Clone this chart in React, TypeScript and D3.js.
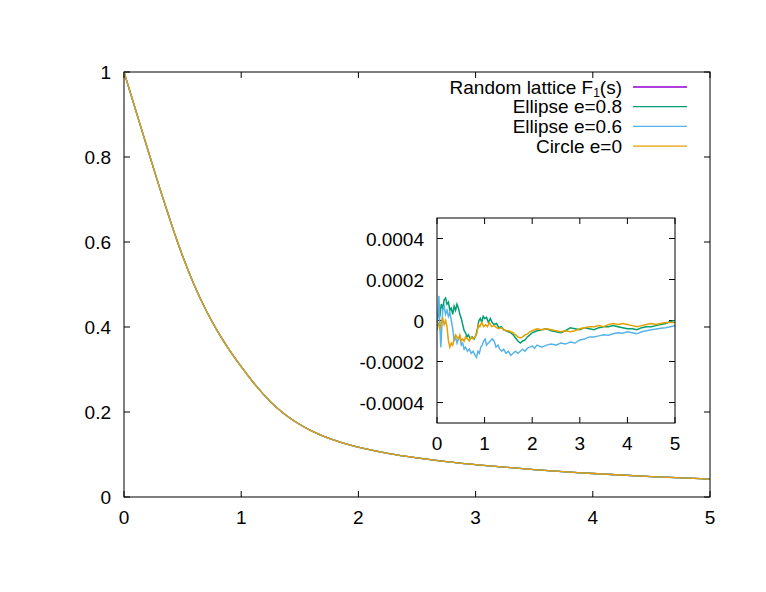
import React from "react";
import * as d3 from "d3";

// Main curve F1(s) (all four series coincide at this scale)
const sMain = [0, 0.1, 0.2, 0.3, 0.4, 0.5, 0.6, 0.7, 0.8, 0.9, 1.0, 1.1, 1.2, 1.3, 1.4, 1.5, 1.6, 1.7, 1.8, 1.9, 2.0, 2.25, 2.5, 2.75, 3.0, 3.5, 4.0, 4.5, 5.0];
const fMain = [1, 0.91, 0.82, 0.73, 0.645, 0.565, 0.497, 0.438, 0.388, 0.345, 0.306, 0.27, 0.238, 0.21, 0.188, 0.17, 0.155, 0.143, 0.133, 0.124, 0.117, 0.102, 0.092, 0.083, 0.076, 0.064, 0.055, 0.048, 0.042];

// Inset differences (units of 1e-4)
const sGreen = [0, 0.03, 0.06, 0.09, 0.12, 0.15, 0.18, 0.21, 0.24, 0.27, 0.3, 0.33, 0.36, 0.39, 0.42, 0.45, 0.48, 0.51, 0.54, 0.57, 0.6, 0.63, 0.66, 0.7, 0.74, 0.78, 0.82, 0.85, 0.88, 0.91, 0.94, 0.97, 1.0, 1.04, 1.08, 1.12, 1.16, 1.2, 1.25, 1.3, 1.35, 1.4, 1.45, 1.5, 1.55, 1.6, 1.65, 1.7, 1.75, 1.8, 1.85, 1.9, 1.95, 2.0, 2.1, 2.2, 2.3, 2.4, 2.5, 2.6, 2.7, 2.8, 2.9, 3.0, 3.1, 3.2, 3.3, 3.4, 3.5, 3.6, 3.7, 3.8, 3.9, 4.0, 4.1, 4.2, 4.3, 4.4, 4.5, 4.6, 4.7, 4.8, 4.9, 5.0];
const dGreen = [0, 0.4, 0.2, 0.8, 0.6, 1.0, 1.1, 0.8, 0.9, 0.5, 0.6, 0.3, 0.7, 0.5, 0.8, 0.6, 0.3, 0.1, -0.2, -0.5, -0.6, -0.8, -0.7, -0.9, -0.8, -0.9, -0.7, -0.4, 0.0, 0.1, -0.1, 0.2, 0.1, 0.15, -0.1, 0.1, -0.1, -0.2, -0.15, -0.35, -0.3, -0.45, -0.5, -0.55, -0.6, -0.7, -0.85, -1.0, -1.1, -1.0, -0.95, -0.8, -0.7, -0.6, -0.5, -0.45, -0.4, -0.5, -0.55, -0.6, -0.5, -0.35, -0.4, -0.45, -0.35, -0.4, -0.45, -0.35, -0.3, -0.3, -0.25, -0.3, -0.35, -0.4, -0.4, -0.45, -0.35, -0.3, -0.3, -0.25, -0.2, -0.15, -0.05, 0.0];

const sBlue = [0, 0.02, 0.04, 0.06, 0.08, 0.1, 0.12, 0.15, 0.18, 0.21, 0.24, 0.27, 0.3, 0.33, 0.36, 0.39, 0.42, 0.45, 0.48, 0.51, 0.54, 0.57, 0.6, 0.64, 0.68, 0.72, 0.76, 0.8, 0.83, 0.86, 0.89, 0.92, 0.95, 0.98, 1.01, 1.04, 1.08, 1.12, 1.16, 1.2, 1.24, 1.28, 1.32, 1.36, 1.4, 1.45, 1.5, 1.55, 1.6, 1.65, 1.7, 1.75, 1.8, 1.85, 1.9, 1.95, 2.0, 2.05, 2.1, 2.2, 2.3, 2.4, 2.5, 2.6, 2.7, 2.8, 2.9, 3.0, 3.1, 3.2, 3.3, 3.4, 3.5, 3.6, 3.7, 3.8, 3.9, 4.0, 4.1, 4.2, 4.3, 4.4, 4.5, 4.6, 4.7, 4.8, 4.9, 5.0];
const dBlue = [-0.5, 0.3, 1.2, -0.2, -1.3, -0.4, 0.5, 0.7, 0.3, 0.5, 0.2, 0.4, 0.0, -0.4, -1.0, -0.8, -1.1, -0.9, -0.8, -1.2, -1.1, -1.4, -1.3, -1.5, -1.4, -1.6, -1.5, -1.7, -1.8, -1.5, -1.6, -1.3, -1.2, -1.0, -0.9, -1.2, -1.1, -1.0, -0.9, -1.0, -1.3, -1.2, -1.4, -1.5, -1.4, -1.6, -1.5, -1.7, -1.6, -1.5, -1.6, -1.5, -1.4, -1.5, -1.35, -1.3, -1.25, -1.35, -1.2, -1.3, -1.2, -1.15, -1.2, -1.1, -1.15, -1.05, -1.1, -0.95, -0.9, -0.8, -0.8, -0.75, -0.7, -0.72, -0.65, -0.6, -0.62, -0.55, -0.6, -0.65, -0.55, -0.5, -0.45, -0.42, -0.38, -0.35, -0.3, -0.25];

const sOrange = [0, 0.03, 0.06, 0.09, 0.12, 0.15, 0.18, 0.21, 0.24, 0.27, 0.3, 0.33, 0.36, 0.39, 0.42, 0.45, 0.48, 0.51, 0.54, 0.57, 0.6, 0.64, 0.68, 0.72, 0.76, 0.8, 0.84, 0.87, 0.9, 0.94, 0.98, 1.02, 1.06, 1.1, 1.15, 1.2, 1.25, 1.3, 1.35, 1.4, 1.45, 1.5, 1.55, 1.6, 1.65, 1.7, 1.75, 1.8, 1.85, 1.9, 1.95, 2.0, 2.1, 2.2, 2.3, 2.4, 2.5, 2.6, 2.7, 2.8, 2.9, 3.0, 3.1, 3.2, 3.3, 3.4, 3.5, 3.6, 3.7, 3.8, 3.9, 4.0, 4.1, 4.2, 4.3, 4.4, 4.5, 4.6, 4.7, 4.8, 4.9, 5.0];
const dOrange = [0, -0.2, -0.4, -0.1, 0.1, -0.2, 0.0, -0.3, -1.0, -1.3, -1.1, -1.2, -0.9, -0.7, -0.8, -0.9, -0.7, -1.0, -0.9, -1.0, -0.8, -0.9, -1.0, -0.8, -0.9, -0.8, -0.6, -0.2, -0.3, -0.1, -0.3, -0.2, -0.3, -0.1, -0.3, -0.25, -0.35, -0.4, -0.35, -0.45, -0.5, -0.5, -0.55, -0.6, -0.7, -0.8, -0.85, -0.8, -0.7, -0.65, -0.55, -0.5, -0.4, -0.45, -0.4, -0.45, -0.5, -0.55, -0.5, -0.55, -0.5, -0.4, -0.35, -0.3, -0.3, -0.25, -0.3, -0.2, -0.15, -0.2, -0.15, -0.2, -0.25, -0.3, -0.25, -0.2, -0.15, -0.2, -0.15, -0.1, -0.1, -0.1];

const mainXTicks = [0, 1, 2, 3, 4, 5];
const mainYTicks = [0, 0.2, 0.4, 0.6, 0.8, 1];
const insetXTicks = [0, 1, 2, 3, 4, 5];
const insetYTicks = [-0.0004, -0.0002, 0, 0.0002, 0.0004];
const insetYLabels = ["-0.0004", "-0.0002", "0", "0.0002", "0.0004"];

const legendNames = ["Random lattice F", "Ellipse e=0.8", "Ellipse e=0.6", "Circle e=0"];
const colors = ["#9400d3", "#009e73", "#56b4e9", "#e69f00"];

const FONT = "'Liberation Sans', Arial, Helvetica, sans-serif";

export default function App() {
  const W = 766, H = 592;
  const x = d3.scaleLinear().domain([0, 5]).range([124, 710]);
  const y = d3.scaleLinear().domain([0, 1]).range([497, 72]);
  const xi = d3.scaleLinear().domain([0, 5]).range([437, 675]);
  const yi = d3.scaleLinear().domain([-0.0005, 0.0005]).range([423, 218]);

  const mainPts: [number, number][] = sMain.map((s, i) => [s, fMain[i]]);
  const mainLine = d3.line<[number, number]>().x(d => x(d[0])).y(d => y(d[1])).curve(d3.curveBasis);
  const mainPath = mainLine(mainPts) || "";

  const insetLine = d3.line<[number, number]>().x(d => xi(d[0])).y(d => yi(d[1] * 1e-4));
  const insetSeries = [
    { s: sGreen, d: dGreen, c: colors[1] },
    { s: sBlue, d: dBlue, c: colors[2] },
    { s: sOrange, d: dOrange, c: colors[3] },
  ];

  const tick = 6;
  return (
    <svg width={W} height={H} style={{ position: "absolute", left: 0, top: 0, background: "#fff" }} fontFamily={FONT} fontSize={19}>
      <rect x={0} y={0} width={W} height={H} fill="#fff" />
      {mainXTicks.map(t => (
        <g key={"mx" + t}>
          <line x1={x(t)} x2={x(t)} y1={497} y2={497 - tick} stroke="#000" />
          <line x1={x(t)} x2={x(t)} y1={72} y2={72 + tick} stroke="#000" />
          <text x={x(t)} y={524} textAnchor="middle">{t}</text>
        </g>
      ))}
      {mainYTicks.map(t => (
        <g key={"my" + t}>
          <line x1={124} x2={124 + tick} y1={y(t)} y2={y(t)} stroke="#000" />
          <line x1={710} x2={710 - tick} y1={y(t)} y2={y(t)} stroke="#000" />
          <text x={111} y={y(t) + 7} textAnchor="end">{String(t)}</text>
        </g>
      ))}
      {colors.map((c, i) => (
        <path key={"mc" + i} d={mainPath} fill="none" stroke={c} strokeWidth={1.3} />
      ))}
      {legendNames.map((n, i) => {
        const cy = 87 + i * 19.7;
        return (
          <g key={"lg" + i}>
            <text x={622} y={cy + 6.5} textAnchor="end">
              {i === 0 ? (
                <>
                  {n}
                  <tspan fontSize={12} dy={3}>1</tspan>
                  <tspan dy={-3}>(s)</tspan>
                </>
              ) : n}
            </text>
            <line x1={633} x2={687} y1={cy} y2={cy} stroke={colors[i]} strokeWidth={1.3} />
          </g>
        );
      })}
      <rect x={124} y={72} width={586} height={425} fill="none" stroke="#000" strokeWidth={1} />

      <rect x={437} y={218} width={238} height={205} fill="#fff" />
      {insetXTicks.map(t => (
        <g key={"ix" + t}>
          <line x1={xi(t)} x2={xi(t)} y1={423} y2={423 - tick} stroke="#000" />
          <line x1={xi(t)} x2={xi(t)} y1={218} y2={218 + tick} stroke="#000" />
          <text x={xi(t)} y={450} textAnchor="middle">{t}</text>
        </g>
      ))}
      {insetYTicks.map((t, i) => (
        <g key={"iy" + i}>
          <line x1={437} x2={437 + tick} y1={yi(t)} y2={yi(t)} stroke="#000" />
          <line x1={675} x2={675 - tick} y1={yi(t)} y2={yi(t)} stroke="#000" />
          <text x={424} y={yi(t) + 7} textAnchor="end">{insetYLabels[i]}</text>
        </g>
      ))}
      <defs>
        <clipPath id="insetClip">
          <rect x={437} y={218} width={238} height={205} />
        </clipPath>
      </defs>
      <g clipPath="url(#insetClip)">
        {insetSeries.map((sr, k) => (
          <path key={"is" + k} d={insetLine(sr.s.map((s, i) => [s, sr.d[i]] as [number, number])) || ""} fill="none" stroke={sr.c} strokeWidth={1.5} />
        ))}
      </g>
      <rect x={437} y={218} width={238} height={205} fill="none" stroke="#000" strokeWidth={1} />
    </svg>
  );
}
